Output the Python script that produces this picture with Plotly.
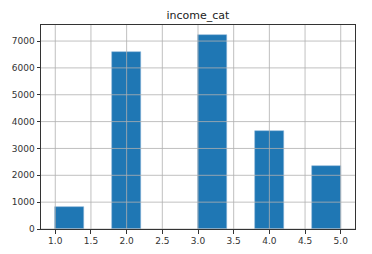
import numpy as np
import plotly.graph_objects as go

# income category values and their counts
categories = [1, 2, 3, 4, 5]
counts = [822, 6581, 7236, 3639, 2362]
x_ticks = [1.0, 1.5, 2.0, 2.5, 3.0, 3.5, 4.0, 4.5, 5.0]
x_tick_labels = ["1.0", "1.5", "2.0", "2.5", "3.0", "3.5", "4.0", "4.5", "5.0"]
y_ticks = [0, 1000, 2000, 3000, 4000, 5000, 6000, 7000]
y_tick_labels = ["0", "1000", "2000", "3000", "4000", "5000", "6000", "7000"]

# histogram with 10 bins between min and max (like pandas .hist())
edges = np.linspace(min(categories), max(categories), 11)
width = edges[1] - edges[0]
bin_counts = np.zeros(10)
for c, n in zip(categories, counts):
    i = min(np.searchsorted(edges, c, side="right") - 1, 9)
    bin_counts[i] += n
centers = (edges[:-1] + edges[1:]) / 2
mask = bin_counts > 0

fig = go.Figure()
fig.add_trace(go.Bar(
    x=centers[mask], y=bin_counts[mask], width=width,
    marker=dict(color="#1f77b4", line=dict(color="rgba(140,180,215,0.9)", width=0.6)),
    hoverinfo="skip",
))

grid = "#b0b0b0"
shapes = []
for t in x_ticks:
    shapes.append(dict(type="line", xref="x", yref="paper", x0=t, x1=t, y0=0, y1=1,
                       line=dict(color=grid, width=0.8), layer="above"))
for t in y_ticks:
    shapes.append(dict(type="line", xref="paper", yref="y", x0=0, x1=1, y0=t, y1=t,
                       line=dict(color=grid, width=0.8), layer="above"))

font = "DejaVu Sans, sans-serif"
fig.update_layout(
    width=372, height=254,
    margin=dict(l=41, r=17, t=25, b=25, autoexpand=False),
    paper_bgcolor="white", plot_bgcolor="white",
    showlegend=False,
    bargap=0,
    shapes=shapes,
    title=dict(text="income_cat", x=0.532, xanchor="center", y=0.925, yanchor="bottom",
               font=dict(family=font, size=11, color="#222")),
    xaxis=dict(range=[0.8, 5.2], tickvals=x_ticks, ticktext=x_tick_labels,
               showgrid=False, zeroline=False, automargin=False,
               showline=True, linecolor="#333", linewidth=1, mirror=True,
               ticks="outside", ticklen=3.5, tickcolor="#333", tickwidth=0.8,
               tickfont=dict(family=font, size=9, color="#333"), layer="above traces"),
    yaxis=dict(range=[0, 7598], tickvals=y_ticks, ticktext=y_tick_labels,
               showgrid=False, zeroline=False, automargin=False,
               showline=True, linecolor="#333", linewidth=1, mirror=True,
               ticks="outside", ticklen=3.5, tickcolor="#333", tickwidth=0.8,
               tickfont=dict(family=font, size=9, color="#333"), layer="above traces"),
)

fig.write_html("out.html")
